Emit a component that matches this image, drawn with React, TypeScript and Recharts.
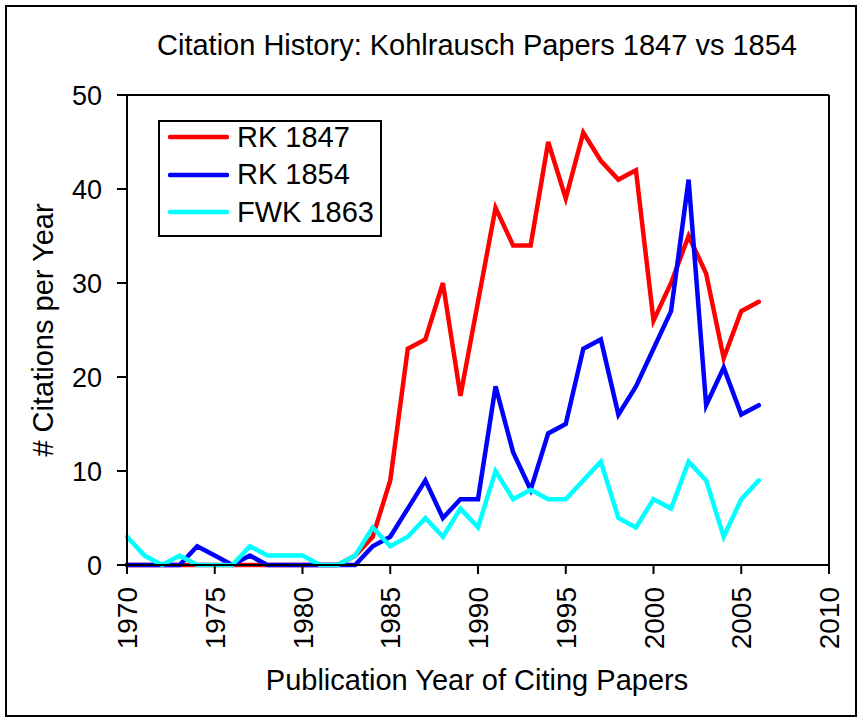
import { LineChart, Line, XAxis, YAxis, Legend, ReferenceLine } from 'recharts';

const years = [
  1970, 1971, 1972, 1973, 1974, 1975, 1976, 1977, 1978, 1979,
  1980, 1981, 1982, 1983, 1984, 1985, 1986, 1987, 1988, 1989,
  1990, 1991, 1992, 1993, 1994, 1995, 1996, 1997, 1998, 1999,
  2000, 2001, 2002, 2003, 2004, 2005, 2006,
];

const rk1847 = [
  0, 0, 0, 0, 0, 0, 0, 0, 0, 0,
  0, 0, 0, 1, 3, 9, 23, 24, 30, 18,
  28, 38, 34, 34, 45, 39, 46, 43, 41, 42,
  26, 30, 35, 31, 22, 27, 28,
];

const rk1854 = [
  0, 0, 0, 0, 2, 1, 0, 1, 0, 0,
  0, 0, 0, 0, 2, 3, 6, 9, 5, 7,
  7, 19, 12, 8, 14, 15, 23, 24, 16, 19,
  23, 27, 41, 17, 21, 16, 17,
];

const fwk1863 = [
  3, 1, 0, 1, 0, 0, 0, 2, 1, 1,
  1, 0, 0, 1, 4, 2, 3, 5, 3, 6,
  4, 10, 7, 8, 7, 7, 9, 11, 5, 4,
  7, 6, 11, 9, 3, 7, 9,
];

const xTicks = [1970, 1975, 1980, 1985, 1990, 1995, 2000, 2005, 2010];
const yTicks = [0, 10, 20, 30, 40, 50];

const series = [
  { key: 'rk1847', name: 'RK 1847', color: '#ff0000' },
  { key: 'rk1854', name: 'RK 1854', color: '#0000ff' },
  { key: 'fwk1863', name: 'FWK 1863', color: '#00ffff' },
];

const data = years.map((year, i) => ({
  year,
  rk1847: rk1847[i],
  rk1854: rk1854[i],
  fwk1863: fwk1863[i],
}));

const FONT = '"Liberation Sans", Arial, sans-serif';

// rotated year labels, reading bottom to top
function YearTick(props: any) {
  const { x, y, payload } = props;
  return (
    <text
      x={x}
      y={y}
      dy="0.36em"
      textAnchor="end"
      fontSize={28}
      fill="#000"
      transform={`rotate(-90 ${x} ${y})`}
    >
      {payload.value}
    </text>
  );
}

function LegendBox() {
  return (
    <div
      style={{
        position: 'relative',
        boxSizing: 'border-box',
        width: 224,
        height: 117,
        border: '2px solid #000',
        background: '#fff',
        fontFamily: FONT,
      }}
    >
      {series.map((s, i) => (
        <div
          key={s.key}
          style={{
            position: 'absolute',
            left: 8,
            top: i * 37.5,
            height: 30,
            display: 'flex',
            alignItems: 'center',
          }}
        >
          <svg width={61} height={8} style={{ display: 'block' }}>
            <line x1={2} y1={4} x2={59} y2={4} stroke={s.color} strokeWidth={4.5} strokeLinecap="round" />
          </svg>
          <span style={{ marginLeft: 8, fontSize: 29, lineHeight: '29px', color: '#000' }}>{s.name}</span>
        </div>
      ))}
    </div>
  );
}

export default function App() {
  return (
    <div
      style={{
        position: 'absolute',
        left: 0,
        top: 0,
        width: 863,
        height: 720,
        background: '#fff',
        fontFamily: FONT,
      }}
    >
      <div
        style={{
          position: 'absolute',
          left: 5,
          top: 5,
          width: 852,
          height: 712,
          boxSizing: 'border-box',
          border: '2px solid #000',
        }}
      />
      <LineChart
        width={863}
        height={720}
        data={data}
        margin={{ top: 95, right: 34, bottom: 55, left: 0 }}
      >
        <XAxis
          dataKey="year"
          type="number"
          domain={[1970, 2010]}
          ticks={xTicks}
          interval={0}
          tickSize={9}
          tickMargin={13}
          height={100}
          axisLine={{ stroke: '#000', strokeWidth: 2 }}
          tickLine={{ stroke: '#000', strokeWidth: 2 }}
          tick={<YearTick />}
        />
        <YAxis
          type="number"
          domain={[0, 50]}
          ticks={yTicks}
          interval={0}
          width={127}
          tickSize={10}
          tickMargin={15}
          axisLine={{ stroke: '#000', strokeWidth: 2 }}
          tickLine={{ stroke: '#000', strokeWidth: 2 }}
          tick={{ fill: '#000', fontSize: 27 }}
        />
        <ReferenceLine y={50} stroke="#000" strokeWidth={2} />
        <ReferenceLine x={2010} stroke="#000" strokeWidth={2} />
        {series.map((s) => (
          <Line
            key={s.key}
            type="linear"
            dataKey={s.key}
            name={s.name}
            stroke={s.color}
            strokeWidth={4.5}
            strokeLinecap="round"
            dot={false}
            activeDot={false}
            isAnimationActive={false}
          />
        ))}
        <Legend
          layout="vertical"
          align="center"
          verticalAlign="middle"
          content={<LegendBox />}
          wrapperStyle={{ left: 158, top: 120, width: 'auto' }}
        />
      </LineChart>
      <svg
        width={863}
        height={720}
        style={{ position: 'absolute', left: 0, top: 0, pointerEvents: 'none' }}
      >
        <text x={477} y={55} textAnchor="middle" fontSize={29} fill="#000">
          Citation History: Kohlrausch Papers 1847 vs 1854
        </text>
        <text x={477} y={690} textAnchor="middle" fontSize={29} fill="#000">
          Publication Year of Citing Papers
        </text>
        <text
          x={53}
          y={330}
          textAnchor="middle"
          fontSize={29}
          fill="#000"
          transform="rotate(-90 53 330)"
        >
          # Citations per Year
        </text>
      </svg>
    </div>
  );
}
